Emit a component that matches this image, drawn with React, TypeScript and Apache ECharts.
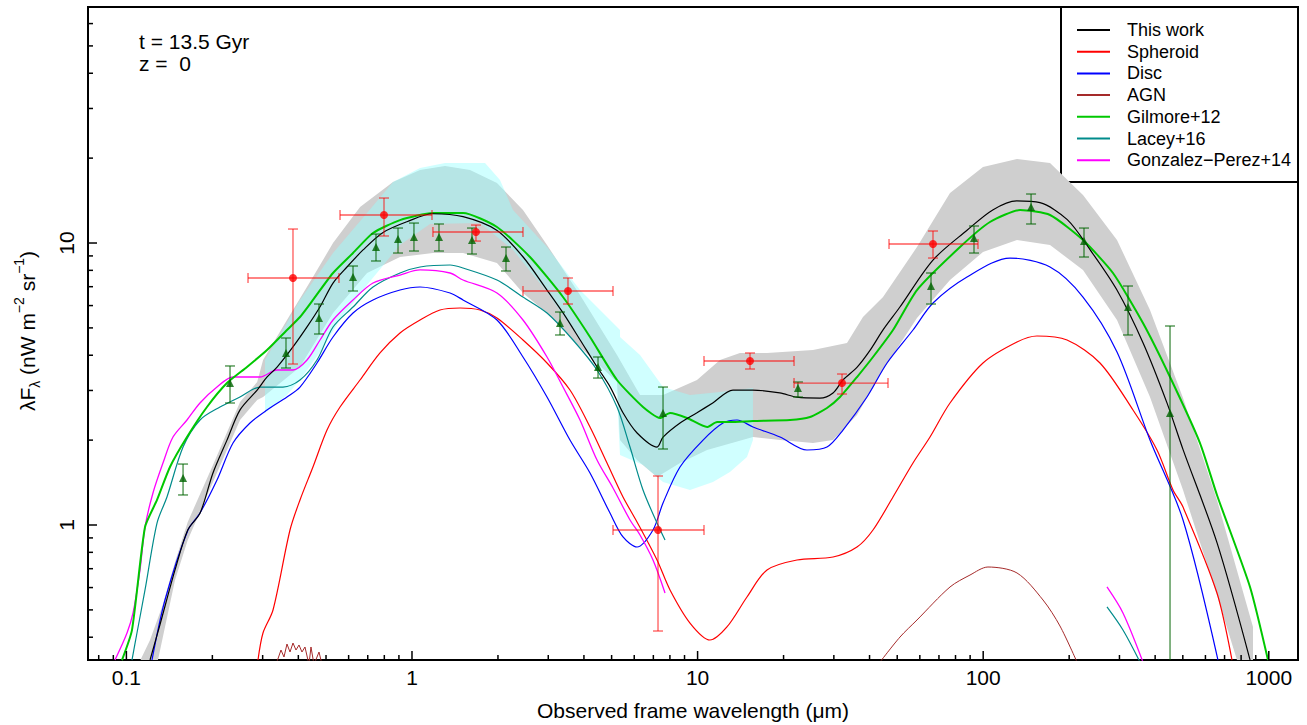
import React, { useEffect, useRef } from "react";
import * as echarts from "echarts";

const FONT = '"Liberation Sans", Arial, Helvetica, sans-serif';
const X_MIN = 0.07338;
const X_MAX = 1265.5;
const Y_MIN = 0.3321;
const Y_MAX = 68.7;

// ---- This work (black) ----
const thisWorkX = [0.121,0.131,0.148,0.164,0.181,0.201,0.225,0.25,0.287,0.311,0.337,0.383,0.429,0.476,0.529,0.592,0.674,0.792,0.96,1.18,1.51,1.98,2.45,2.97,3.38,3.88,4.45,4.94,5.48,6.14,7.21,7.57,8.68,9.95,11.3,13.3,15.6,19.4,22.3,26.8,29.8,32.3,36.2,40.2,44.6,51.1,66.7,87.8,108,131,158,197,237,294,363,440,501,659,860];
const thisWorkY = [0.332,0.442,0.693,0.96,1.10,1.53,2.00,2.56,3.01,3.35,3.63,4.28,5.04,5.93,7.21,8.22,9.45,10.9,11.9,12.7,12.4,11.1,8.92,6.81,5.65,4.53,3.63,3.09,2.50,2.12,1.89,2.05,2.30,2.50,2.71,3.01,3.01,2.94,2.84,2.82,2.94,3.27,3.63,4.17,4.92,5.93,8.70,11.1,13.1,14.1,13.9,12.1,9.45,6.81,4.42,2.71,1.85,0.864,0.332];

// ---- This work uncertainty band (grey) ----
const bandUpperX = [0.112,0.121,0.134,0.148,0.164,0.201,0.25,0.287,0.301,0.365,0.45,0.529,0.658,0.858,1.067,1.305,1.596,1.984,2.447,2.97,3.875,5.222,6.286,7.568,9.952,11.98,14.07,17.5,25.35,33.35,37.94,44.6,58.64,76.53,99.84,131.3,171.4,223.6,294.1,383.7,500.8,658.5,880.5,880.5];
const bandUpperY = [0.332,0.391,0.52,0.739,1.025,1.632,2.731,3.214,3.847,5.333,7.577,10.0,13.42,16.45,18.16,18.75,18.16,16.32,13.09,9.838,6.541,4.008,2.891,2.891,3.267,3.847,4.074,4.074,4.173,4.419,5.465,6.434,9.678,15.04,18.6,19.86,19.22,14.8,10.25,5.787,2.821,1.227,0.4349,0.332];
const bandLowerX = [0.129,0.148,0.164,0.201,0.25,0.287,0.301,0.405,0.529,0.696,0.908,1.184,1.509,1.984,2.447,2.97,3.875,5.222,5.35,6.136,7.21,8.678,10.79,15.63,19.44,25.35,29.8,36.15,44.6,58.64,76.53,99.84,131.3,171.4,223.6,294.1,383.7,500.8,658.5,773.8];
const bandLowerY = [0.332,0.638,0.885,1.42,2.357,2.775,2.844,3.634,5.646,7.828,8.92,9.215,9.215,8.494,6.648,5.646,4.277,3.214,2.001,1.70,1.48,1.659,1.845,2.051,2.001,1.953,2.001,2.455,3.545,5.42,7.393,9.292,10.25,9.838,8.024,5.333,2.844,1.331,0.565,0.332];

// ---- Second uncertainty band (cyan) ----
const cyanUpperX = [0.3057,0.3367,0.4054,0.529,0.6958,0.8582,1.067,1.305,1.802,2.033,2.258,2.97,3.875,5.35,5.35,6.286,7.568,9.406,11.98,15.63];
const cyanUpperY = [3.847,4.529,6.281,9.215,12.78,16.45,18.45,19.22,19.22,16.72,13.09,9.678,6.813,4.915,4.642,4.008,3.085,2.891,2.962,3.061];
const cyanLowerX = [0.3057,0.365,0.4054,0.4764,0.5598,0.6958,0.9079,1.156,1.73,2.258,2.97,3.875,5.222,5.35,6.44,7.568,9.406,11.32,12.98,14.89,15.63];
const cyanLowerY = [2.496,2.891,3.267,4.107,5.333,7.097,9.838,11.68,11.77,9.445,6.703,4.529,2.891,1.771,1.632,1.42,1.331,1.42,1.541,1.742,2.001];

// ---- Spheroid (red) ----
const spheroidX = [0.2889,0.3008,0.3261,0.374,0.4054,0.45,0.504,0.5598,0.6577,0.7727,0.9079,1.067,1.253,1.473,1.73,1.984,2.447,2.97,3.574,4.201,4.818,5.481,6.136,7.21,8.007,9.406,11.05,12.67,14.89,17.5,22.28,29.8,36.15,41.13,48.33,56.78,65.13,76.53,99.84,131.3,154.3,196.6,256.4,334.6,406,462,500.8,658.5,743.2];
const spheroidY = [0.332,0.414,0.4995,0.96,1.227,1.606,2.172,2.621,3.267,4.074,4.797,5.333,5.787,5.883,5.787,5.42,4.529,3.754,3.011,2.226,1.659,1.257,1.025,0.7513,0.5883,0.4491,0.391,0.4349,0.5554,0.6925,0.7513,0.77,0.8355,0.96,1.257,1.659,2.051,2.708,3.754,4.456,4.68,4.529,3.754,2.557,1.845,1.331,1.158,0.5739,0.332];

// ---- Disc (blue) ----
const discX = [0.1229,0.1365,0.1643,0.181,0.2076,0.2362,0.2709,0.3107,0.365,0.4054,0.4649,0.529,0.6216,0.7302,0.9079,1.067,1.359,1.509,1.984,2.447,2.97,3.574,4.201,4.935,5.481,6.136,6.98,7.568,8.678,10.45,12.27,13.74,15.63,19.44,24.15,28.38,32.29,39.18,46.06,56.78,66.72,87.78,124.1,171.4,223.6,294.1,383.7,500.8,663.9];
const discY = [0.332,0.542,0.96,1.103,1.444,1.953,2.30,2.557,2.844,3.085,3.754,4.642,5.646,6.281,6.813,6.982,6.648,6.281,5.333,3.943,2.844,2.001,1.529,1.103,0.9067,0.8355,0.96,1.197,1.606,2.001,2.30,2.357,2.226,2.051,1.845,1.89,2.172,2.844,3.754,4.915,6.128,7.577,8.846,8.222,6.434,4.107,2.001,1.042,0.332];

// ---- AGN (brown) ----
const agnUvX = [0.334,0.3478,0.3563,0.365,0.374,0.3831,0.3925,0.4021,0.4119,0.422,0.4358,0.4429,0.4538,0.4725,0.4842];
const agnUvY = [0.32,0.3603,0.3404,0.3784,0.3545,0.3815,0.3603,0.3754,0.3545,0.3693,0.32,0.3693,0.32,0.3545,0.32];
const agnIrX = [43.53,51.13,58.64,76.53,89.9,103.9,131.3,162,185.7,213];
const agnIrY = [0.3266,0.4006,0.4604,0.6029,0.6646,0.7096,0.676,0.542,0.4384,0.3266];

// ---- Gilmore+12 (green) ----
const gilmoreX = [0.0965,0.1046,0.1162,0.128,0.1421,0.163,0.1915,0.225,0.2644,0.3107,0.365,0.4054,0.45,0.529,0.6216,0.7302,0.9079,1.184,1.509,1.984,2.589,3.379,4.201,5.222,6.44,7.386,8.007,9.181,10.79,11.7,12.98,15.63,21.07,24.75,28.38,31.52,36.15,41.13,48.33,58.64,82.96,105.6,134.6,171.4,223.6,284.7,362.6,451,574.2,658.5,859.5,993.7];
const gilmoreY = [0.332,0.424,0.984,1.227,1.606,2.051,2.621,3.187,3.634,4.173,4.915,5.465,6.281,7.828,9.215,10.85,12.06,12.78,12.78,11.4,8.92,6.434,4.642,3.267,2.621,2.396,2.496,2.396,2.226,2.318,2.318,2.338,2.357,2.415,2.599,2.844,3.348,3.943,4.915,6.813,9.678,11.87,13.09,12.57,10.25,7.828,5.203,3.348,1.953,1.278,0.603,0.332];

// ---- Lacey+16 (teal) ----
const laceyX = [0.1046,0.1089,0.1162,0.128,0.1387,0.1579,0.181,0.2127,0.2498,0.2936,0.3534,0.4054,0.4649,0.529,0.6216,0.7302,0.9079,1.067,1.359,1.509,1.984,2.447,2.97,3.662,4.445,5.222,5.799,6.44,7.21,7.691];
const laceyY = [0.332,0.414,0.5883,1.016,1.257,1.89,2.357,2.621,2.844,3.085,3.085,3.267,3.847,5.036,5.93,6.982,7.828,8.222,8.356,8.155,7.393,6.434,5.646,4.529,3.545,2.621,1.89,1.331,1.016,0.8847];
const laceyFirX = [271.3,308.6,354];
const laceyFirY = [0.5121,0.4242,0.3266];

// ---- Gonzalez-Perez+14 (magenta) ----
const gpX = [0.0912,0.1005,0.1055,0.1116,0.1162,0.1239,0.1343,0.1456,0.163,0.181,0.2076,0.2362,0.2936,0.3367,0.3831,0.429,0.4764,0.529,0.6216,0.7302,0.9079,1.067,1.359,1.509,1.984,2.447,2.97,3.379,3.875,4.445,5.056,5.799,6.286,6.98,7.691];
const gpY = [0.332,0.414,0.4875,0.6925,0.9838,1.299,1.659,2.051,2.357,2.708,3.085,3.348,3.348,3.545,3.545,3.847,4.529,5.333,6.281,7.214,7.701,8.024,7.828,7.393,6.648,5.333,3.943,3.085,2.357,1.70,1.353,1.042,0.9216,0.7513,0.5739];
const gpFirX = [271.3,308.6,362.6];
const gpFirY = [0.6029,0.4875,0.3266];

// ---- Observations: red circles with x and y errors ----
const redX = [0.3831,0.798,1.675,3.517,7.268,15.26,32.04,66.72];
const redY = [7.515,12.57,10.94,6.758,0.96,3.816,3.187,9.92];
const redXLo = [0.2666,0.5598,1.184,2.447,5.056,10.53,21.76,46.8];
const redXHi = [0.555,1.175,2.447,5.056,10.53,21.76,46.42,95.9];
const redYLo = [3.723,10.59,10.16,6.077,0.4208,3.574,2.914,8.846];
const redYHi = [11.21,14.44,11.58,7.515,1.492,4.074,3.431,11.03];

// ---- Observations: green triangles with y errors ----
const triX = [0.1579,0.2306,0.3621,0.4725,0.6216,0.7481,0.8934,1.016,1.243,1.622,2.134,3.298,4.481,7.568,22.46,65.66,92.86,147.1,225.4,321.4,451];
const triY = [1.468,3.187,4.074,5.42,7.577,9.678,10.33,10.5,10.5,10.25,8.846,5.203,3.634,2.496,3.061,7.039,10.41,13.42,10.16,5.93,2.496];
const triYLo = [1.278,2.708,3.604,4.757,6.758,8.635,9.215,9.367,9.367,9.141,7.958,4.719,3.32,1.86,2.844,6.077,9.215,11.68,8.92,4.719,0.3];
const triYHi = [1.645,3.664,4.604,6.077,8.288,10.76,11.3,11.77,11.68,11.3,9.678,5.692,3.943,3.085,3.214,7.828,11.49,14.92,11.3,7.039,5.078];

// ---- Axis ticks ----
const xMajorTicks = [0.1, 1, 10, 100, 1000];
const xTickLabels = ["0.1", "1", "10", "100", "1000"];
const xMinorTicks = [0.08,0.09,0.2,0.3,0.4,0.5,0.6,0.7,0.8,0.9,2,3,4,5,6,7,8,9,20,30,40,50,60,70,80,90,200,300,400,500,600,700,800,900];
const yMajorTicks = [1, 10];
const yTickLabels = ["1", "10"];
const yMinorTicks = [0.4,0.5,0.6,0.7,0.8,0.9,2,3,4,5,6,7,8,9,20,30,40,50,60];

// ---- Legend ----
const legendNames = ["This work", "Spheroid", "Disc", "AGN", "Gilmore+12", "Lacey+16", "Gonzalez\u2212Perez+14"];
const legendColors = ["#000000", "#ff0000", "#0000ff", "#a52a2a", "#00c800", "#008b8b", "#ff00ff"];

const zip = (xs: number[], ys: number[]) => xs.map((x, i) => [x, ys[i]]);

function lineSeries(name: string, xs: number[], ys: number[], color: string, width: number, z = 3, smooth: number | boolean = 0.3) {
  return {
    type: "line",
    name,
    data: zip(xs, ys),
    showSymbol: false,
    symbol: "none",
    smooth,
    lineStyle: { color, width },
    itemStyle: { color },
    z,
    silent: true,
    clip: true,
  };
}

function bandSeries(ux: number[], uy: number[], lx: number[], ly: number[], fill: string, z: number) {
  const pts = [...zip(ux, uy), ...zip(lx, ly).reverse()];
  return {
    type: "custom",
    data: [[1, 1]],
    clip: true,
    silent: true,
    z,
    renderItem: (_p: any, api: any) => ({
      type: "polygon",
      shape: { points: pts.map((p) => api.coord(p)) },
      style: { fill },
    }),
  };
}

export default function App() {
  const ref = useRef<HTMLDivElement>(null);

  useEffect(() => {
    document.body.style.margin = "0";
    const chart = echarts.init(ref.current!, null, { renderer: "svg" });

    const redErr = {
      type: "custom",
      z: 5,
      clip: true,
      silent: true,
      encode: { x: 0, y: 1 },
      data: redX.map((x, i) => [x, redY[i], redXLo[i], redXHi[i], redYLo[i], redYHi[i]]),
      renderItem: (_p: any, api: any) => {
        const x = api.value(0), y = api.value(1);
        const c = api.coord([x, y]);
        const l = api.coord([api.value(2), y]);
        const r = api.coord([api.value(3), y]);
        const b = api.coord([x, api.value(4)]);
        const t = api.coord([x, api.value(5)]);
        const st = { stroke: "rgba(255,0,0,0.65)", lineWidth: 1.3 };
        const cap = 5;
        return {
          type: "group",
          children: [
            { type: "line", shape: { x1: l[0], y1: c[1], x2: r[0], y2: c[1] }, style: st },
            { type: "line", shape: { x1: l[0], y1: c[1] - cap, x2: l[0], y2: c[1] + cap }, style: st },
            { type: "line", shape: { x1: r[0], y1: c[1] - cap, x2: r[0], y2: c[1] + cap }, style: st },
            { type: "line", shape: { x1: c[0], y1: b[1], x2: c[0], y2: t[1] }, style: st },
            { type: "line", shape: { x1: c[0] - cap, y1: b[1], x2: c[0] + cap, y2: b[1] }, style: st },
            { type: "line", shape: { x1: c[0] - cap, y1: t[1], x2: c[0] + cap, y2: t[1] }, style: st },
          ],
        };
      },
    };

    const greenErr = {
      type: "custom",
      z: 5,
      clip: true,
      silent: true,
      encode: { x: 0, y: 1 },
      data: triX.map((x, i) => [x, triY[i], triYLo[i], triYHi[i]]),
      renderItem: (_p: any, api: any) => {
        const x = api.value(0);
        const b = api.coord([x, api.value(2)]);
        const t = api.coord([x, api.value(3)]);
        const st = { stroke: "rgba(0,100,0,0.75)", lineWidth: 1.3 };
        const cap = 5;
        return {
          type: "group",
          children: [
            { type: "line", shape: { x1: b[0], y1: b[1], x2: b[0], y2: t[1] }, style: st },
            { type: "line", shape: { x1: b[0] - cap, y1: b[1], x2: b[0] + cap, y2: b[1] }, style: st },
            { type: "line", shape: { x1: t[0] - cap, y1: t[1], x2: t[0] + cap, y2: t[1] }, style: st },
          ],
        };
      },
    };

    const axesSeries = {
      type: "custom",
      z: 10,
      silent: true,
      clip: false,
      data: [[1, 1]],
      renderItem: (_p: any, api: any) => {
        const children: any[] = [];
        const tickSt = { stroke: "#000", lineWidth: 1.5 };
        const txt = (x: number, y: number, text: string, rot = 0) => ({
          type: "text",
          x,
          y,
          rotation: rot,
          style: { text, fontSize: 21, fontFamily: FONT, fill: "#000", align: "center", verticalAlign: "middle" },
        });
        xMajorTicks.forEach((v, i) => {
          const p = api.coord([v, Y_MIN]);
          children.push({ type: "line", shape: { x1: p[0], y1: p[1], x2: p[0], y2: p[1] - 9 }, style: tickSt });
          children.push(txt(p[0], p[1] + 17, xTickLabels[i]));
        });
        xMinorTicks.forEach((v) => {
          const p = api.coord([v, Y_MIN]);
          children.push({ type: "line", shape: { x1: p[0], y1: p[1], x2: p[0], y2: p[1] - 5 }, style: tickSt });
        });
        yMajorTicks.forEach((v, i) => {
          const p = api.coord([X_MIN, v]);
          children.push({ type: "line", shape: { x1: p[0], y1: p[1], x2: p[0] + 9, y2: p[1] }, style: tickSt });
          children.push(txt(p[0] - 22, p[1], yTickLabels[i], Math.PI / 2));
        });
        yMinorTicks.forEach((v) => {
          const p = api.coord([X_MIN, v]);
          children.push({ type: "line", shape: { x1: p[0], y1: p[1], x2: p[0] + 5, y2: p[1] }, style: tickSt });
        });
        return { type: "group", children };
      },
    };

    const legendChildren: any[] = [
      { type: "rect", shape: { x: 1061, y: 7, width: 237, height: 175 }, style: { fill: "#fff", stroke: "#000", lineWidth: 2 } },
    ];
    legendNames.forEach((name, i) => {
      const y = 30 + i * 21.7;
      legendChildren.push({ type: "line", shape: { x1: 1077, y1: y, x2: 1110, y2: y }, style: { stroke: legendColors[i], lineWidth: 2 } });
      legendChildren.push({
        type: "text",
        x: 1127,
        y,
        style: { text: name, fontSize: 18, fontFamily: FONT, fill: "#000", align: "left", verticalAlign: "middle" },
      });
    });

    const option: any = {
      animation: false,
      backgroundColor: "#ffffff",
      grid: { left: 88, top: 7, width: 1210, height: 653, show: true, borderColor: "#000", borderWidth: 2, backgroundColor: "transparent" },
      xAxis: {
        type: "log",
        logBase: 10,
        min: X_MIN,
        max: X_MAX,
        axisLine: { show: false },
        axisTick: { show: false },
        axisLabel: { show: false },
        splitLine: { show: false },
      },
      yAxis: {
        type: "log",
        logBase: 10,
        min: Y_MIN,
        max: Y_MAX,
        axisLine: { show: false },
        axisTick: { show: false },
        axisLabel: { show: false },
        splitLine: { show: false },
      },
      series: [
        bandSeries(bandUpperX, bandUpperY, bandLowerX, bandLowerY, "#cfcfcf", 1),
        bandSeries(cyanUpperX, cyanUpperY, cyanLowerX, cyanLowerY, "rgba(150,255,255,0.45)", 1),
        lineSeries("AGN", agnUvX, agnUvY, "#a52a2a", 1, 3, false),
        lineSeries("AGN", agnIrX, agnIrY, "#a52a2a", 1),
        lineSeries("Spheroid", spheroidX, spheroidY, "#ff0000", 1.2),
        lineSeries("Disc", discX, discY, "#0000ff", 1.2),
        lineSeries("Lacey+16", laceyX, laceyY, "#008b8b", 1.2),
        lineSeries("Lacey+16", laceyFirX, laceyFirY, "#008b8b", 1.2),
        lineSeries("Gonzalez-Perez+14", gpX, gpY, "#ff00ff", 1.3),
        lineSeries("Gonzalez-Perez+14", gpFirX, gpFirY, "#ff00ff", 1.3),
        lineSeries("Gilmore+12", gilmoreX, gilmoreY, "#00c800", 2, 3, 0.2),
        lineSeries("This work", thisWorkX, thisWorkY, "#000000", 1.2, 4),
        greenErr,
        redErr,
        {
          type: "scatter",
          data: zip(redX, redY),
          symbol: "circle",
          symbolSize: 8,
          itemStyle: { color: "#ff0000" },
          z: 6,
          silent: true,
        },
        {
          type: "scatter",
          data: zip(triX, triY),
          symbol: "triangle",
          symbolSize: 8,
          itemStyle: { color: "#006400" },
          z: 6,
          silent: true,
        },
        axesSeries,
      ],
      graphic: [
        { type: "group", z: 100, children: legendChildren },
        {
          type: "text",
          z: 100,
          x: 139,
          y: 41,
          style: { text: "t = 13.5 Gyr", fontSize: 21, fontFamily: FONT, fill: "#000", align: "left", verticalAlign: "middle" },
        },
        {
          type: "text",
          z: 100,
          x: 139,
          y: 63,
          style: { text: "z =  0", fontSize: 21, fontFamily: FONT, fill: "#000", align: "left", verticalAlign: "middle" },
        },
        {
          type: "text",
          z: 100,
          x: 693,
          y: 710,
          style: { text: "Observed frame wavelength (\u03bcm)", fontSize: 21, fontFamily: FONT, fill: "#000", align: "center", verticalAlign: "middle" },
        },
        {
          type: "text",
          z: 100,
          x: 27,
          y: 331,
          rotation: Math.PI / 2,
          style: {
            text: "{a|\u03bbF}{s|\u03bb}{a| (nW m}{p|\u22122}{a| sr}{p|\u22121}{a|)}",
            align: "center",
            verticalAlign: "middle",
            fill: "#000",
            rich: {
              a: { fontSize: 21, fontFamily: FONT, lineHeight: 30, verticalAlign: "middle", fill: "#000" },
              s: { fontSize: 14, fontFamily: FONT, lineHeight: 14, verticalAlign: "bottom", fill: "#000" },
              p: { fontSize: 14, fontFamily: FONT, lineHeight: 14, verticalAlign: "top", fill: "#000" },
            },
          },
        },
      ],
    };

    chart.setOption(option);
    return () => chart.dispose();
  }, []);

  return <div ref={ref} style={{ width: 1307, height: 725 }} />;
}
